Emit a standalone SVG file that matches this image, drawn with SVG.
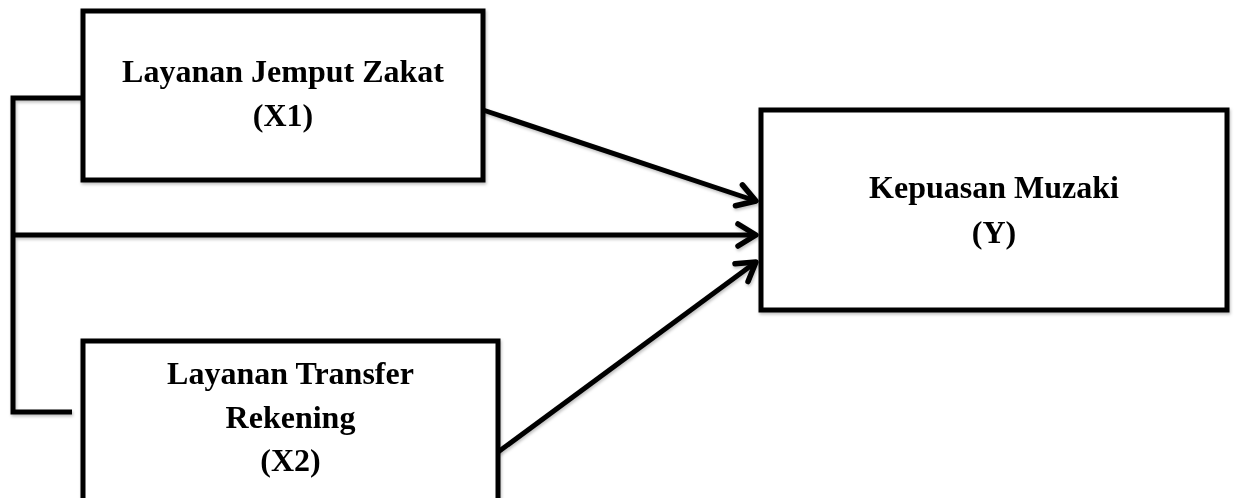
<svg xmlns="http://www.w3.org/2000/svg" width="1235" height="498" viewBox="0 0 1235 498">
  <style>
    .box { fill: #ffffff; stroke: #000000; stroke-width: 5; }
    .conn { fill: none; stroke: #000000; stroke-width: 5; stroke-linejoin: miter; }
    .lbl { font-family: "Liberation Serif", "Times New Roman", serif; font-weight: bold; font-size: 32px; fill: #000000; text-anchor: middle; }
  </style>
  <defs>
    <marker id="arrow" markerUnits="userSpaceOnUse" viewBox="-22 -14 26 28" refX="0" refY="0" markerWidth="26" markerHeight="28" orient="auto">
      <path d="M-18,-11 L0,0 L-18,11" fill="none" stroke="#000000" stroke-width="5.5" stroke-linecap="round" stroke-linejoin="round"/>
    </marker>
    <filter id="sh" x="-5%" y="-5%" width="110%" height="115%">
      <feDropShadow dx="1" dy="2" stdDeviation="1.5" flood-color="#000000" flood-opacity="0.25"/>
    </filter>
  </defs>

  <g id="connectors" filter="url(#sh)">
    <path class="conn" d="M83,98 H13 V412 H72"/>
    <line class="conn" x1="13" y1="235" x2="756" y2="235" marker-end="url(#arrow)"/>
    <line class="conn" x1="483" y1="110" x2="756" y2="201" marker-end="url(#arrow)"/>
    <line class="conn" x1="498" y1="452" x2="756" y2="262" marker-end="url(#arrow)"/>
  </g>

  <g id="node-x1" filter="url(#sh)">
    <rect class="box" x="83" y="11" width="400" height="169"/>
    <text class="lbl" x="283" y="82">Layanan Jemput Zakat</text>
    <text class="lbl" x="283" y="126">(X1)</text>
  </g>

  <g id="node-x2" filter="url(#sh)">
    <rect class="box" x="83" y="341" width="415" height="160"/>
    <text class="lbl" x="290.5" y="384">Layanan Transfer</text>
    <text class="lbl" x="290.5" y="428">Rekening</text>
    <text class="lbl" x="290.5" y="471">(X2)</text>
  </g>

  <g id="node-y" filter="url(#sh)">
    <rect class="box" x="761" y="110" width="466" height="200"/>
    <text class="lbl" x="994" y="198">Kepuasan Muzaki</text>
    <text class="lbl" x="994" y="243">(Y)</text>
  </g>
</svg>
